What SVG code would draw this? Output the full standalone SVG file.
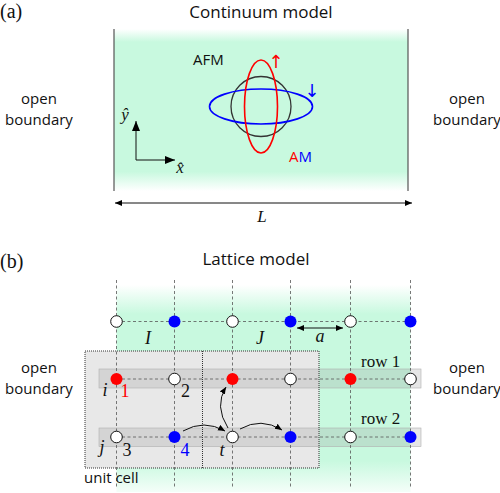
<svg xmlns="http://www.w3.org/2000/svg" width="500" height="493" viewBox="0 0 500 493">
<defs>
<linearGradient id="gA" x1="0" y1="0" x2="0" y2="1">
<stop offset="0" stop-color="#c8f9df" stop-opacity="0"/>
<stop offset="0.08" stop-color="#c8f9df" stop-opacity="1"/>
<stop offset="0.88" stop-color="#c8f9df" stop-opacity="1"/>
<stop offset="1" stop-color="#c8f9df" stop-opacity="0"/>
</linearGradient>
<linearGradient id="gB" x1="0" y1="0" x2="0" y2="1">
<stop offset="0" stop-color="#c8f9df" stop-opacity="0"/>
<stop offset="0.14" stop-color="#c8f9df" stop-opacity="1"/>
<stop offset="0.85" stop-color="#c8f9df" stop-opacity="1"/>
<stop offset="1" stop-color="#c8f9df" stop-opacity="0.2"/>
</linearGradient>
<marker id="ah" markerUnits="userSpaceOnUse" markerWidth="10" markerHeight="8" refX="7" refY="3" orient="auto-start-reverse">
<path d="M0,0 L7,3 L0,6 z" fill="#000"/>
</marker>
<marker id="ahB" markerUnits="userSpaceOnUse" markerWidth="12" markerHeight="10" refX="10" refY="4" orient="auto-start-reverse">
<path d="M0,0 L10,4 L0,8 z" fill="#000"/>
</marker>
</defs>
<style>
.sans{font-family:"Open Sans","DejaVu Sans",sans-serif;fill:#111}
.serif{font-family:"Liberation Serif","DejaVu Serif",serif;fill:#111}
.it{font-family:"Liberation Serif","DejaVu Serif",serif;font-style:italic;fill:#111}
.grid{stroke:#555;stroke-width:0.8;stroke-dasharray:3 2.5;fill:none}
.band{fill:#8c8c8c;fill-opacity:0.22;stroke:#b0b0b0;stroke-width:0.6}
.w{fill:#fff;stroke:#111;stroke-width:1}
.r{fill:#f00}
.b{fill:#00f}
.arr{fill:none;stroke:#111;stroke-width:1}
</style>

<!-- Panel (a) -->
<g id="panel-a">
<text class="serif" x="0" y="18" font-size="20">(a)</text>
<text class="sans" x="261" y="18" font-size="17" text-anchor="middle">Continuum model</text>
<rect x="114" y="29" width="294" height="162" fill="url(#gA)"/>
<line x1="114" y1="29" x2="114" y2="191" stroke="#555" stroke-width="1.2"/>
<line x1="408" y1="29" x2="408" y2="191" stroke="#555" stroke-width="1.2"/>
</g>
<g id="open-a-left"><text class="sans" font-size="15" text-anchor="middle"><tspan x="39" y="104">open</tspan><tspan x="39" y="125">boundary</tspan></text></g>
<g id="open-a-right"><text class="sans" font-size="15" text-anchor="middle"><tspan x="467" y="104">open</tspan><tspan x="467" y="125">boundary</tspan></text></g>
<g id="afm">
<text class="sans" x="193" y="65" font-size="15">AFM</text>
<circle cx="261" cy="106.5" r="30" fill="none" stroke="#333" stroke-width="1.3"/>
</g>
<g id="am">
<ellipse cx="261" cy="106.5" rx="51.5" ry="17.5" fill="none" stroke="#00f" stroke-width="1.6"/>
<ellipse cx="261" cy="106.5" rx="16.5" ry="46.5" fill="none" stroke="#f00" stroke-width="1.6"/>
<text x="276" y="68" font-family="'DejaVu Sans',sans-serif" font-size="18" fill="#f00" text-anchor="middle">↑</text>
<text x="312" y="97" font-family="'DejaVu Sans',sans-serif" font-size="18" fill="#00f" text-anchor="middle">↓</text>
<text class="sans" x="289" y="162" font-size="15" style="fill:#f00">A<tspan style="fill:#00f">M</tspan></text>
</g>
<g id="axes">
<path class="arr" d="M136,160 V121" marker-end="url(#ahB)" stroke-width="1.4"/>
<path class="arr" d="M136,160 H175" marker-end="url(#ahB)" stroke-width="1.4"/>
<text class="it" x="125" y="120" font-size="17" text-anchor="middle">ŷ</text>
<text class="it" x="180" y="173" font-size="17" text-anchor="middle">x̂</text>
</g>
<g id="length">
<line x1="115" y1="203" x2="412" y2="203" stroke="#111" stroke-width="1" marker-start="url(#ah)" marker-end="url(#ah)"/>
<text class="it" x="262" y="222" font-size="17" text-anchor="middle">L</text>
</g>

<!-- Panel (b) -->
<g id="panel-b">
<text class="serif" x="0" y="268" font-size="20">(b)</text>
<text class="sans" x="256" y="265" font-size="17" text-anchor="middle">Lattice model</text>
<rect x="116.5" y="285" width="294" height="207" fill="url(#gB)"/>
</g>
<g id="unit-cell-fill">
<rect x="85" y="351" width="234" height="117" fill="#e8e8e8"/>
</g>
<g id="bands">
<rect class="band" x="99" y="369" width="322" height="19"/>
<rect class="band" x="99" y="428" width="322" height="18.5"/>
</g>
<g id="grid">
<path class="grid" d="M116.5,280 V488 M174.5,280 V488 M232.5,280 V488 M290.5,280 V488 M350.5,280 V488 M410.5,280 V488"/>
<path class="grid" d="M116.5,321.5 H410.5 M116.5,379 H410.5 M116.5,437 H410.5"/>
</g>
<g id="unit-cell">
<rect x="85" y="351" width="234" height="117" fill="none" stroke="#333" stroke-width="1" stroke-dasharray="1 1"/>
<line x1="202.5" y1="351" x2="202.5" y2="468" stroke="#333" stroke-width="1" stroke-dasharray="1 1"/>
<text class="sans" x="84" y="483" font-size="15">unit cell</text>
</g>
<g id="nodes">
<circle class="w" cx="116.5" cy="321.5" r="5.8"/>
<circle class="b" cx="174.5" cy="321.5" r="6"/>
<circle class="w" cx="232.5" cy="321.5" r="5.8"/>
<circle class="b" cx="290.5" cy="321.5" r="6"/>
<circle class="w" cx="350.5" cy="321.5" r="5.8"/>
<circle class="b" cx="410.5" cy="321.5" r="6"/>
<circle class="r" cx="116.5" cy="379" r="6"/>
<circle class="w" cx="174.5" cy="379" r="5.8"/>
<circle class="r" cx="232.5" cy="379" r="6"/>
<circle class="w" cx="290.5" cy="379" r="5.8"/>
<circle class="r" cx="350.5" cy="379" r="6"/>
<circle class="w" cx="410.5" cy="379" r="5.8"/>
<circle class="w" cx="116.5" cy="437" r="5.8"/>
<circle class="b" cx="174.5" cy="437" r="6"/>
<circle class="w" cx="232.5" cy="437" r="5.8"/>
<circle class="b" cx="290.5" cy="437" r="6"/>
<circle class="w" cx="350.5" cy="437" r="5.8"/>
<circle class="b" cx="410.5" cy="437" r="6"/>
</g>
<g id="connectors">
<path class="arr" d="M183,431 Q204,419 225,431" marker-end="url(#ah)"/>
<path class="arr" d="M228,428 Q214,406 226,387" marker-end="url(#ah)"/>
<path class="arr" d="M240,429 Q261,417 282,430" marker-end="url(#ah)"/>
<line x1="297" y1="328" x2="343" y2="328" stroke="#111" stroke-width="1" marker-start="url(#ah)" marker-end="url(#ah)"/>
</g>
<g id="labels-b">
<text class="it" x="148" y="344" font-size="18" text-anchor="middle">I</text>
<text class="it" x="260" y="344" font-size="18" text-anchor="middle">J</text>
<text class="it" x="320" y="342" font-size="18" text-anchor="middle">a</text>
<text class="serif" x="361" y="367" font-size="17">row 1</text>
<text class="serif" x="361" y="424" font-size="17">row 2</text>
<text class="it" x="105" y="396" font-size="18" text-anchor="middle">i</text>
<text class="serif" x="125" y="397" font-size="18" text-anchor="middle" style="fill:#f00">1</text>
<text class="serif" x="185.5" y="397" font-size="18" text-anchor="middle">2</text>
<text class="it" x="102" y="453" font-size="18" text-anchor="middle">j</text>
<text class="serif" x="127" y="456" font-size="18" text-anchor="middle">3</text>
<text class="serif" x="185" y="456" font-size="18" text-anchor="middle" style="fill:#00f">4</text>
<text class="it" x="222" y="456" font-size="18" text-anchor="middle">t</text>
</g>
<g id="open-b-left"><text class="sans" font-size="15" text-anchor="middle"><tspan x="39" y="373">open</tspan><tspan x="39" y="394">boundary</tspan></text></g>
<g id="open-b-right"><text class="sans" font-size="15" text-anchor="middle"><tspan x="467" y="373">open</tspan><tspan x="467" y="394">boundary</tspan></text></g>
</svg>
